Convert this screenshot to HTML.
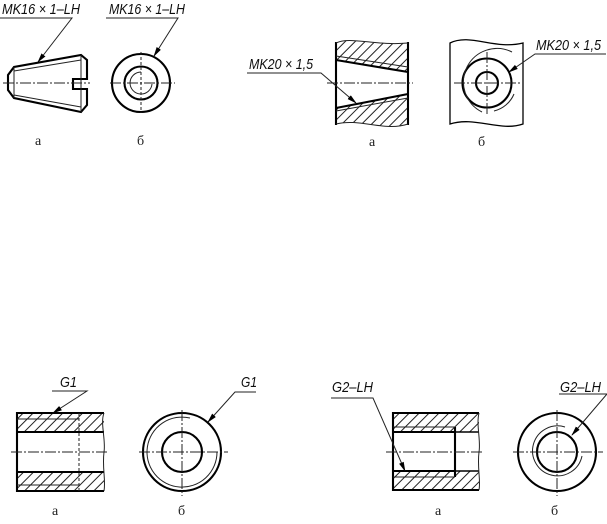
<!DOCTYPE html>
<html><head><meta charset="utf-8">
<style>
html,body{margin:0;padding:0;background:#fff;width:607px;height:524px;overflow:hidden}
svg{display:block}
.lbl{font:italic 14.5px "Liberation Sans",sans-serif;fill:#111}
.sub{font:14px "Liberation Serif",serif;fill:#222}
.k{fill:none;stroke:#000;stroke-width:2.1}
.t{fill:none;stroke:#222;stroke-width:1}
.c{fill:none;stroke:#222;stroke-width:1;stroke-dasharray:11 2 2 2}
.d{fill:none;stroke:#222;stroke-width:1;stroke-dasharray:3 2}
</style></head>
<body>
<svg width="607" height="524" viewBox="0 0 607 524" xmlns="http://www.w3.org/2000/svg">
<defs>
<pattern id="h" width="7" height="7" patternUnits="userSpaceOnUse" patternTransform="rotate(45)">
<line x1="0" y1="0" x2="0" y2="7" stroke="#222" stroke-width="2"/>
</pattern>
<marker id="a" markerWidth="10" markerHeight="6" refX="9" refY="3" orient="auto" markerUnits="userSpaceOnUse">
<path d="M0 .5L10 3L0 5.5z" fill="#000"/>
</marker>
<filter id="b" x="0" y="0" width="100%" height="100%"><feGaussianBlur stdDeviation="0.35"/></filter>
</defs>
<g filter="url(#b)">
<!-- top left a -->
<text class="lbl" x="2" y="14" textLength="78" lengthAdjust="spacingAndGlyphs">MK16 × 1–LH</text>
<path class="t" d="M0 18H72L38 62" marker-end="url(#a)"/>
<path class="k" d="M87 79V60L81 55L14 67L8 75V90L14 98L81 112L87 105V89H73V79Z"/>
<path class="t" d="M14 67V98M81 55V112M14 71L81 60M14 95L81 107"/>
<path class="c" d="M3 83H90"/>
<text class="sub" x="35" y="145">а</text>

<!-- top left b -->
<text class="lbl" x="109" y="14" textLength="76" lengthAdjust="spacingAndGlyphs">MK16 × 1–LH</text>
<path class="t" d="M106 18H178L154 56" marker-end="url(#a)"/>
<circle class="k" cx="141" cy="83" r="29"/>
<circle class="k" cx="141" cy="83" r="16.5"/>
<path class="t" d="M141 72A11 11 0 1 0 152 84"/>
<path class="c" d="M110 83H175"/>
<path class="d" d="M141 52V113"/>
<text class="sub" x="137" y="145">б</text>

<!-- top right a -->
<path d="M336 43C350 36 375 46 408 43V72L336 60Z" fill="url(#h)"/>
<path d="M336 108L408 94V124C385 132 360 118 336 124Z" fill="url(#h)"/>
<path class="k" d="M336 42V125M408 42V125M336 60L408 72M336 108L408 94"/>
<path class="t" d="M336 43C350 36 375 46 408 43M336 124C360 118 385 132 408 124M336 56L408 67M336 111L408 98"/>
<path class="c" d="M327 83H413"/>
<text class="lbl" x="249" y="69" textLength="64" lengthAdjust="spacingAndGlyphs">MK20 × 1,5</text>
<path class="t" d="M247 73H321L356 103" marker-end="url(#a)"/>
<text class="sub" x="369" y="146">а</text>

<!-- top right b -->
<path class="k" style="stroke-width:1.3" d="M450 124V43C470 33 495 50 523 43V124C500 132 475 116 450 124Z"/>
<circle class="k" cx="487" cy="83" r="24.5"/>
<circle class="k" cx="487" cy="83" r="11"/>
<path class="t" d="M512 52A29 29 0 0 0 482 112M514 94A29 29 0 0 1 494 111"/>
<path class="c" d="M454 83H520"/>
<path class="c" d="M487 52V114"/>
<text class="lbl" x="536" y="50" textLength="65" lengthAdjust="spacingAndGlyphs">MK20 × 1,5</text>
<path class="t" d="M606 54H535L509 72" marker-end="url(#a)"/>
<text class="sub" x="478" y="146">б</text>

<!-- bottom left a -->
<rect x="17" y="413" width="87" height="19" fill="url(#h)"/>
<rect x="17" y="472" width="87" height="19" fill="url(#h)"/>
<path class="k" d="M104 413H17V491H104M17 432H104M17 472H104"/>
<path class="t" d="M17 419H79M17 485H79M104 413C100 423 106 440 104 452C102 468 106 480 104 491"/>
<path class="d" d="M79 413V491"/>
<path class="c" d="M11 452H109"/>
<text class="lbl" x="60" y="387" textLength="17" lengthAdjust="spacingAndGlyphs">G1</text>
<path class="t" d="M52 391H87L53 413" marker-end="url(#a)"/>
<text class="sub" x="52" y="515">а</text>

<!-- bottom left b -->
<circle class="k" cx="182" cy="452" r="39"/>
<circle class="k" cx="182" cy="452" r="20"/>
<path class="t" d="M190 418A35 35 0 1 0 217 452"/>
<path class="c" d="M139 452H228"/>
<path class="c" d="M182 410V496"/>
<text class="lbl" x="241" y="387" textLength="16" lengthAdjust="spacingAndGlyphs">G1</text>
<path class="t" d="M256 392H235L208 422" marker-end="url(#a)"/>
<text class="sub" x="178" y="515">б</text>

<!-- bottom right a -->
<rect x="393" y="413" width="86" height="19" fill="url(#h)"/>
<rect x="393" y="471" width="86" height="19" fill="url(#h)"/>
<path class="k" d="M479 413H393V490H479M393 432H455M393 471H455M455 427V477"/>
<path class="k" style="stroke-width:1.4" d="M455 432H479M455 471H479"/>
<path class="t" d="M393 427H455M393 477H455M479 413C476 425 481 440 479 452C477 468 481 480 479 490"/>
<path class="c" d="M386 452H484"/>
<text class="lbl" x="332" y="392" textLength="41" lengthAdjust="spacingAndGlyphs">G2–LH</text>
<path class="t" d="M331 398H373L405 471" marker-end="url(#a)"/>
<text class="sub" x="435" y="515">а</text>

<!-- bottom right b -->
<circle class="k" cx="557" cy="452" r="39"/>
<circle class="k" cx="557" cy="452" r="20"/>
<path class="t" d="M565 427A25 25 0 1 0 582 456"/>
<path class="c" d="M513 452H603"/>
<path class="c" d="M557 410V496"/>
<text class="lbl" x="560" y="392" textLength="41" lengthAdjust="spacingAndGlyphs">G2–LH</text>
<path class="t" d="M559 394H607L572 435" marker-end="url(#a)"/>
<text class="sub" x="551" y="515">б</text>
</g>
</svg>
</body></html>
